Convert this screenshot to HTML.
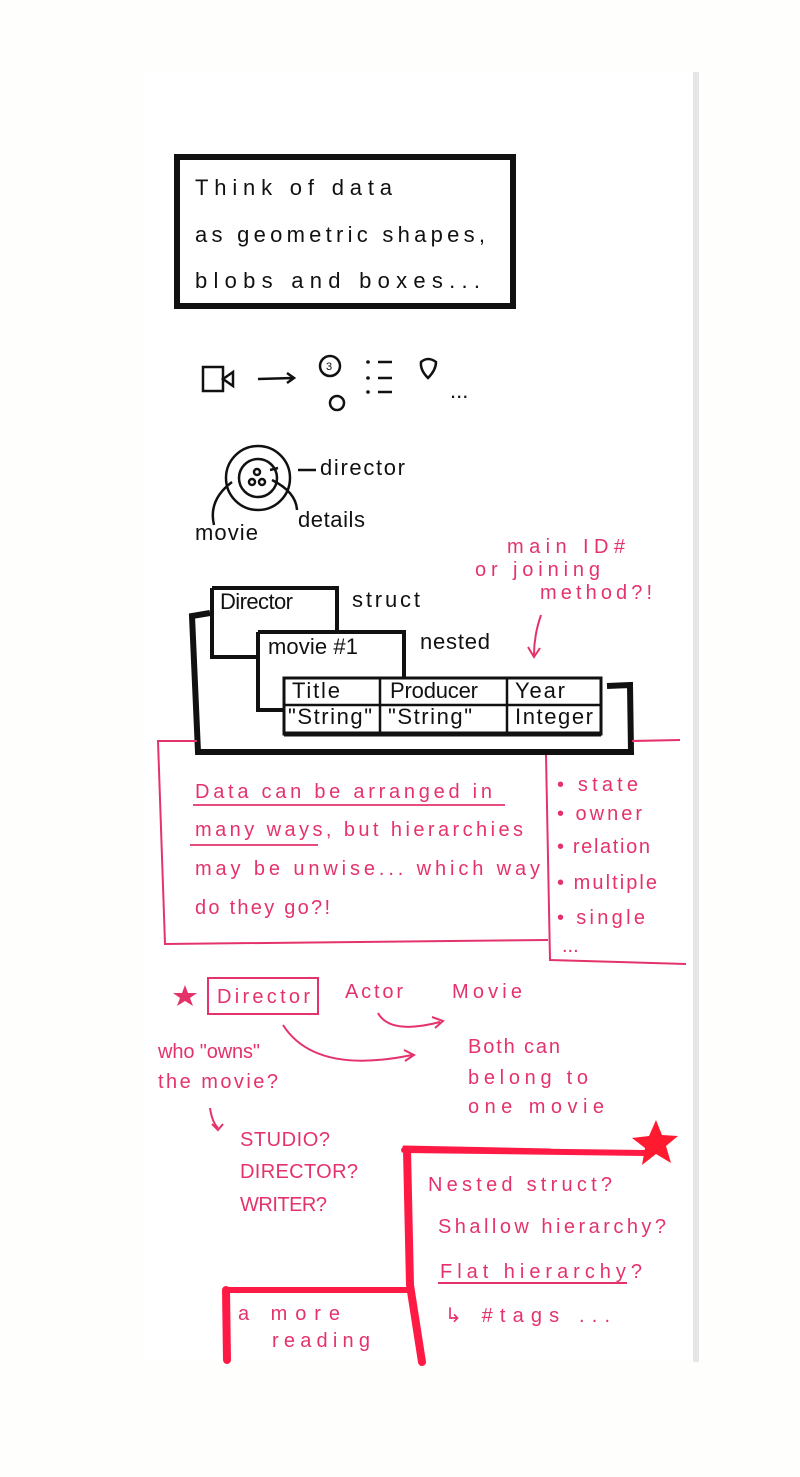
<!DOCTYPE html>
<html><head><meta charset="utf-8"><style>
html,body{margin:0;padding:0;background:#fff;}
svg{display:block;}
text{font-family:"Liberation Sans",sans-serif;}
.k{fill:#111;font-size:22px;}
.p{fill:#e4336b;font-size:20px;}
</style></head><body>
<svg width="800" height="1477" viewBox="0 0 800 1477" xmlns="http://www.w3.org/2000/svg">
<rect width="800" height="1477" fill="#fefefc"/>
<rect x="145" y="72" width="552" height="1290" fill="#ffffff"/>
<rect x="693" y="72" width="6" height="1290" fill="#e6e6e6"/>
<!-- title box -->
<rect x="177" y="157" width="336" height="149" fill="none" stroke="#111" stroke-width="6"/>
<text class="k" x="195" y="195" textLength="197" lengthAdjust="spacing" font-size="23">Think of data</text>
<text class="k" x="195" y="242" textLength="290" lengthAdjust="spacing" font-size="23">as geometric shapes,</text>
<text class="k" x="195" y="288" textLength="285" lengthAdjust="spacing" font-size="23">blobs and boxes...</text>
<!-- icons -->
<g stroke="#111" stroke-width="2.5" fill="none">
<rect x="203" y="367" width="20" height="24"/>
<path d="M223 379 L233 372 L233 386 Z"/>
<path d="M258 379 L293 378 M287 373 L294 378 L287 383"/>
<circle cx="330" cy="366" r="10"/>
<circle cx="337" cy="403" r="7"/>
<path d="M378 362 H392 M378 378 H392 M378 392 H392"/>
<path d="M421 362 Q428 356 436 362 Q436 370 428 378 Q420 370 421 362 Z"/>
<circle cx="258" cy="478" r="32"/>
<circle cx="258" cy="478" r="19"/>
<circle cx="252" cy="482" r="3"/><circle cx="262" cy="482" r="3"/><circle cx="257" cy="472" r="3"/>
<path d="M316 470 H298 M278 468 L270 470 M214 525 Q208 500 232 482 M297 510 Q296 492 272 480"/>
</g>
<circle cx="368" cy="362" r="1.8" fill="#111"/><circle cx="368" cy="378" r="1.8" fill="#111"/><circle cx="368" cy="392" r="1.8" fill="#111"/>
<text x="326" y="370" font-size="11" fill="#111">3</text>
<text class="k" x="450" y="398">...</text>
<text class="k" x="320" y="475" font-size="19" textLength="85" lengthAdjust="spacing">director</text>
<text class="k" x="195" y="540" font-size="19" textLength="63" lengthAdjust="spacing">movie</text>
<text class="k" x="298" y="527" font-size="19" textLength="67" lengthAdjust="spacing">details</text>
<!-- pink note top -->
<text class="p" x="507" y="553" font-size="17" textLength="118" lengthAdjust="spacing">main ID#</text>
<text class="p" x="475" y="576" font-size="17" textLength="125" lengthAdjust="spacing">or joining</text>
<text class="p" x="540" y="599" font-size="17" textLength="112" lengthAdjust="spacing">method?!</text>
<path d="M541 615 Q534 635 534 655 M528 647 L534 657 L540 648" stroke="#e4336b" stroke-width="2" fill="none"/>
<!-- black struct -->
<g stroke="#111" fill="none">
<path d="M210 613 L192 616 L198 752 L631 752 L630 685 L607 686" stroke-width="6"/>
<path d="M212 588 H337 V632 M212 588 V657 H258" stroke-width="4"/>
<path d="M258 632 H404 V678 M258 632 V710 H284" stroke-width="4"/>
<rect x="284" y="678" width="317" height="56" stroke-width="3"/>
<path d="M284 705 H600 M380 678 V734 M507 678 V734" stroke-width="2.5"/>
<path d="M284 734 H601" stroke-width="5"/>
</g>
<text class="k" x="220" y="609" font-size="14" textLength="73" lengthAdjust="spacing">Director</text>
<text class="k" x="352" y="607" font-size="18" textLength="68" lengthAdjust="spacing">struct</text>
<text class="k" x="268" y="654" font-size="16" textLength="90" lengthAdjust="spacing">movie #1</text>
<text class="k" x="420" y="649" font-size="18" textLength="70" lengthAdjust="spacing">nested</text>
<text class="k" x="292" y="698" font-size="15" textLength="48" lengthAdjust="spacing">Title</text>
<text class="k" x="390" y="698" font-size="15" textLength="88" lengthAdjust="spacing">Producer</text>
<text class="k" x="515" y="698" font-size="16" textLength="50" lengthAdjust="spacing">Year</text>
<text class="k" x="288" y="724" font-size="15" textLength="84" lengthAdjust="spacing">"String"</text>
<text class="k" x="388" y="724" font-size="15" textLength="84" lengthAdjust="spacing">"String"</text>
<text class="k" x="515" y="724" font-size="15" textLength="78" lengthAdjust="spacing">Integer</text>
<!-- pink box -->
<g stroke="#e4336b" stroke-width="2" fill="none">
<path d="M197 741 L158 741 L165 944 L548 940"/>
<path d="M632 741 L680 740"/>
<path d="M546 755 L550 960 L686 964"/>
<path d="M193 805 H505 M190 845 H318" stroke-width="1.8"/>
</g>
<text class="p" x="195" y="798" textLength="297" lengthAdjust="spacing">Data can be arranged in</text>
<text class="p" x="195" y="836" textLength="328" lengthAdjust="spacing">many ways, but hierarchies</text>
<text class="p" x="195" y="875" textLength="345" lengthAdjust="spacing">may be unwise... which way</text>
<text class="p" x="195" y="914" textLength="135" lengthAdjust="spacing">do they go?!</text>
<text class="p" x="557" y="791" font-size="18" textLength="81" lengthAdjust="spacing">• state</text>
<text class="p" x="557" y="820" font-size="18" textLength="85" lengthAdjust="spacing">• owner</text>
<text class="p" x="557" y="853" font-size="18" textLength="93" lengthAdjust="spacing">• relation</text>
<text class="p" x="557" y="889" font-size="18" textLength="100" lengthAdjust="spacing">• multiple</text>
<text class="p" x="557" y="924" font-size="18" textLength="88" lengthAdjust="spacing">• single</text>
<text class="p" x="562" y="952" font-size="16">...</text>
<!-- lower -->
<polygon points="185,985 188,993 197,993 190,998 193,1006 185,1001 177,1006 180,998 173,993 182,993" fill="#e4336b"/>
<rect x="208" y="978" width="110" height="36" fill="none" stroke="#e4336b" stroke-width="2"/>
<text class="p" x="217" y="1003" textLength="93" lengthAdjust="spacing">Director</text>
<text class="p" x="345" y="998" textLength="58" lengthAdjust="spacing">Actor</text>
<text class="p" x="452" y="998" textLength="70" lengthAdjust="spacing">Movie</text>
<g stroke="#e4336b" stroke-width="2" fill="none">
<path d="M378 1013 Q390 1035 440 1022 M432 1017 L443 1021 L435 1028"/>
<path d="M283 1025 Q315 1075 412 1055 M404 1050 L414 1055 L405 1061"/>
<path d="M210 1108 Q212 1122 218 1128 M212 1124 L218 1130 L223 1124"/>
</g>
<text class="p" x="158" y="1058" font-size="16" textLength="102" lengthAdjust="spacing">who "owns"</text>
<text class="p" x="158" y="1088" font-size="17" textLength="120" lengthAdjust="spacing">the movie?</text>
<text class="p" x="240" y="1146" font-size="15" textLength="90" lengthAdjust="spacing">STUDIO?</text>
<text class="p" x="240" y="1178" font-size="15" textLength="118" lengthAdjust="spacing">DIRECTOR?</text>
<text class="p" x="240" y="1211" font-size="15" textLength="87" lengthAdjust="spacing">WRITER?</text>
<text class="p" x="468" y="1053" font-size="18" textLength="92" lengthAdjust="spacing">Both can</text>
<text class="p" x="468" y="1084" font-size="18" textLength="120" lengthAdjust="spacing">belong to</text>
<text class="p" x="468" y="1113" font-size="18" textLength="136" lengthAdjust="spacing">one movie</text>
<g stroke="#ff1a45" fill="none" stroke-linecap="round">
<path d="M404 1150 L645 1153" stroke-width="6"/>
<path d="M404 1147 L550 1150" stroke-width="3"/>
<path d="M407 1150 L410 1285 L422 1362" stroke-width="8"/>
<path d="M226 1290 L410 1290" stroke-width="6"/>
<path d="M226 1290 L227 1360" stroke-width="8"/>
</g>
<polygon points="656,1120 662,1135 678,1136 666,1146 671,1163 656,1154 642,1165 645,1148 632,1138 649,1136" fill="#ff1a30"/>
<text class="p" x="428" y="1191" textLength="184" lengthAdjust="spacing">Nested struct?</text>
<text class="p" x="438" y="1233" textLength="228" lengthAdjust="spacing">Shallow hierarchy?</text>
<text class="p" x="440" y="1278" textLength="202" lengthAdjust="spacing">Flat hierarchy?</text>
<path d="M438 1283 H627" stroke="#e4336b" stroke-width="2"/>
<text class="p" x="445" y="1322" textLength="165" lengthAdjust="spacing">↳ #tags ...</text>
<text class="p" x="238" y="1320" font-size="17" textLength="102" lengthAdjust="spacing">a more</text>
<text class="p" x="272" y="1347" font-size="17" textLength="98" lengthAdjust="spacing">reading</text>
</svg>
</body></html>
